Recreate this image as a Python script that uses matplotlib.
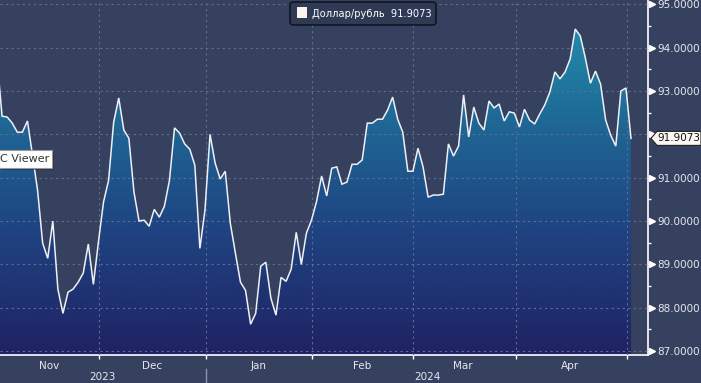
import numpy as np
import matplotlib
matplotlib.use("Agg")
import matplotlib.pyplot as plt
from matplotlib.colors import LinearSegmentedColormap
from matplotlib.transforms import blended_transform_factory
from matplotlib.patches import FancyBboxPatch, Polygon, Rectangle
from matplotlib.lines import Line2D

# ---------------- data ----------------
values = [
    93.75, 92.42, 92.40, 92.26, 92.05, 92.05, 92.31, 91.52, 90.71, 89.49,
    89.14, 90.00, 88.43, 87.87, 88.36, 88.43, 88.59, 88.80, 89.47, 88.54,
    89.52, 90.44, 90.94, 92.28, 92.84, 92.10, 91.91, 90.67, 90.00, 90.02,
    89.88, 90.27, 90.09, 90.34, 90.94, 92.15, 92.03, 91.78, 91.66, 91.29,
    89.37, 90.25, 92.00, 91.34, 90.97, 91.15, 89.95, 89.26, 88.59, 88.40,
    87.62, 87.87, 88.96, 89.05, 88.22, 87.83, 88.70, 88.61, 88.89, 89.74,
    89.00, 89.72, 90.02, 90.45, 91.04, 90.58, 91.22, 91.25, 90.85, 90.90,
    91.31, 91.31, 91.41, 92.26, 92.26, 92.35, 92.35, 92.56, 92.86, 92.35,
    92.05, 91.15, 91.15, 91.68, 91.25, 90.55, 90.60, 90.60, 90.62, 91.78,
    91.50, 91.73, 92.91, 91.94, 92.63, 92.26, 92.10, 92.77, 92.61, 92.70,
    92.31, 92.52, 92.49, 92.17, 92.58, 92.33, 92.24, 92.47, 92.68, 92.98,
    93.44, 93.28, 93.44, 93.74, 94.43, 94.27, 93.76, 93.18, 93.46, 93.16,
    92.33, 91.98, 91.73, 93.00, 93.07, 91.9073,
]
series_name = "Доллар/рубль"
last_value_label = "91.9073"

month_bounds = [20.2, 41.3, 62.2, 82.1, 102.3, 124.2]
month_labels = ["Nov", "Dec", "Jan", "Feb", "Mar", "Apr"]
month_label_pos = [10.3, 30.6, 51.5, 72.0, 91.9, 113.0]
year_labels = ["2023", "2024"]
year_label_pos = [20.7, 84.8]
year_sep = 41.3
y_ticks = [87, 88, 89, 90, 91, 92, 93, 94, 95]
y_tick_labels = ["87.0000", "88.0000", "89.0000", "90.0000", "91.0000", "",
                 "93.0000", "94.0000", "95.0000"]
y_minor = [87.5, 88.5, 89.5, 90.5, 91.5, 92.5, 93.5, 94.5]

# ---------------- style ----------------
BG = "#35415e"
GRID = "#5f6f90"
TXT = "#e6e8ee"
W, H = 701, 383
YMIN, YMAX = 86.91, 95.10
XMIN, XMAX = 0.59, 128.35

fig = plt.figure(figsize=(W / 100, H / 100), dpi=100)
fig.patch.set_facecolor(BG)
ax = fig.add_axes([0, 28 / H, 648 / W, 355 / H])
ax.set_facecolor(BG)

x = np.arange(len(values))
y = np.array(values)

# gradient fill under the line
cmap = LinearSegmentedColormap.from_list(
    "g", [(0.0, "#1f2264"), (0.35, "#1f4381"), (0.65, "#1e6795"), (1.0, "#2296b0")])
poly = ax.fill_between(x, y, YMIN, facecolor="none", edgecolor="none")
grad = np.linspace(0, 1, 256).reshape(-1, 1)
im = ax.imshow(grad, extent=[x[0], x[-1], YMIN, YMAX], aspect="auto",
               cmap=cmap, origin="lower", zorder=1, interpolation="bilinear")
im.set_clip_path(poly.get_paths()[0], transform=ax.transData)

ax.plot(x, y, color="#eef0f5", lw=1.1, zorder=3, solid_joinstyle="miter")

ax.set_xlim(XMIN, XMAX)
ax.set_ylim(YMIN, YMAX)

# grid / ticks
ax.set_axisbelow(False)
ax.set_xticks(month_bounds)
ax.set_xticklabels([""] * len(month_bounds))
ax.set_xticks(month_label_pos, minor=True)
ax.set_xticklabels(month_labels, minor=True)
ax.yaxis.tick_right()
ax.set_yticks(y_ticks)
ax.set_yticklabels(y_tick_labels)
ax.set_yticks(y_minor, minor=True)
ax.grid(True, which="major", ls=(0, (2, 3)), color=GRID, lw=0.8)

ax.tick_params(axis="x", which="major", length=3, width=1, color="white", direction="out")
ax.tick_params(axis="x", which="minor", length=0, pad=4, labelsize=7.5, labelcolor=TXT)
ax.tick_params(axis="y", which="major", length=0, pad=6.5, labelsize=7.5, labelcolor=TXT,
               right=True, left=False)
ax.tick_params(axis="y", which="minor", length=2.5, width=1, color="white",
               right=True, left=False)

for s in ["left", "top"]:
    ax.spines[s].set_visible(False)
for s in ["right", "bottom"]:
    ax.spines[s].set_color("white")
    ax.spines[s].set_linewidth(1.2)

# triangular major tick markers on the right axis
tr = blended_transform_factory(ax.transAxes, ax.transData)
ax.plot([1.0 + 3.5 / 648] * len(y_ticks), y_ticks, ls="none", marker=">",
        ms=5, color="white", transform=tr, clip_on=False, zorder=4)

# year labels and separator
trx = blended_transform_factory(ax.transData, fig.transFigure)
for lab, pos in zip(year_labels, year_label_pos):
    fig.text(pos, 1 - 377 / H, lab, transform=trx, ha="center", va="center",
             fontsize=7.5, color=TXT)
fig.add_artist(Line2D([year_sep, year_sep], [0, 14 / H], transform=trx,
                      color="#8e97ab", lw=1))

# last value tag
last = values[-1]
hh = 7 / 43.3
ftr = blended_transform_factory(fig.transFigure, ax.transData)
tag = Polygon([(651 / W, last), (657 / W, last + hh), (1.0, last + hh),
               (1.0, last - hh), (657 / W, last - hh)], closed=True,
              facecolor="#fbf7f2", edgecolor="#222222", lw=0.8,
              transform=ftr, clip_on=False, zorder=10)
fig.add_artist(tag)
fig.text(679 / W, last, last_value_label, transform=ftr, ha="center", va="center",
         fontsize=7.5, color="#111111", zorder=11)

# legend box
leg = FancyBboxPatch((290 / W, 1 - 25 / H), 146 / W, 23 / H,
                     boxstyle="round,pad=0,rounding_size=0.006",
                     transform=fig.transFigure, facecolor="#2f3a55",
                     edgecolor="#111522", lw=1.2, zorder=10)
fig.add_artist(leg)
fig.add_artist(Rectangle((297 / W, 1 - 17.5 / H), 10 / W, 10 / H,
                         transform=fig.transFigure, facecolor="#fdf3f0",
                         edgecolor="none", zorder=11))
fig.text(312 / W, 1 - 13.5 / H, f"{series_name}  {last_value_label}",
         ha="left", va="center", fontsize=7.1, color="white", zorder=11)

# tooltip artifact
fig.add_artist(Rectangle((1 / W, 1 - 170 / H), 53 / W, 18 / H,
                         transform=fig.transFigure, facecolor="#1c2233",
                         edgecolor="none", alpha=0.5, zorder=10))
fig.add_artist(Rectangle((-1 / W, 1 - 168 / H), 53 / W, 18 / H,
                         transform=fig.transFigure, facecolor="white",
                         edgecolor="#9a9a9a", lw=0.8, zorder=11))
fig.text(0.5 / W, 1 - 159.5 / H, "C Viewer", ha="left", va="center",
         fontsize=8, color="#333333", zorder=12)

fig.savefig("out.png", dpi=100, facecolor=BG)
